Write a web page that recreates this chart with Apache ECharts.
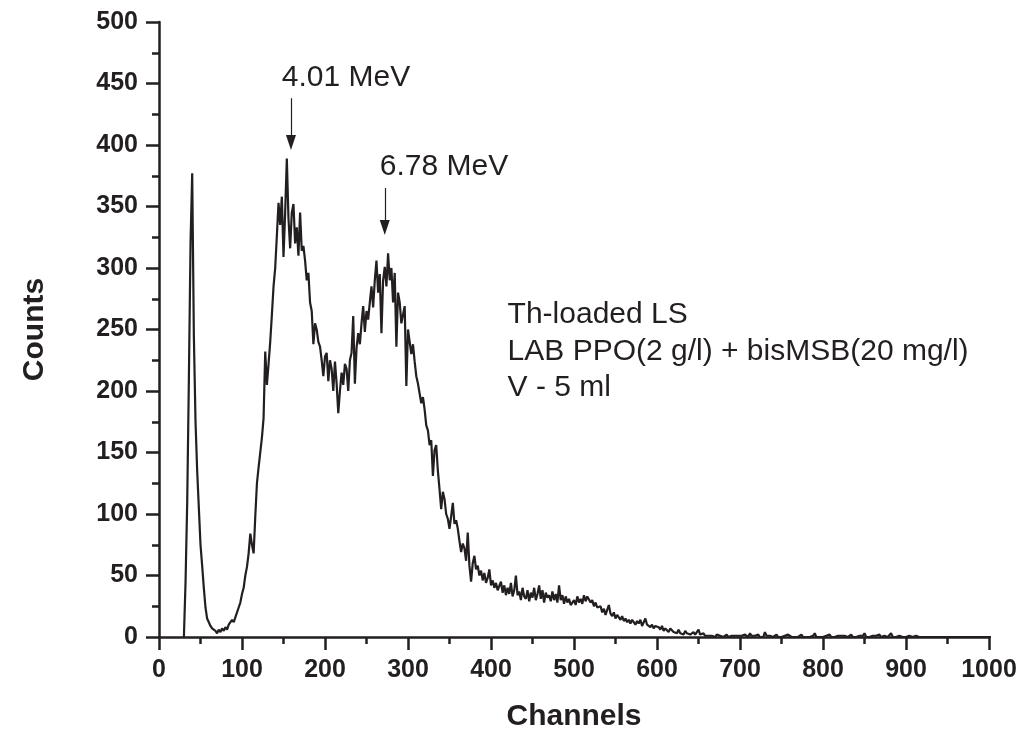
<!DOCTYPE html>
<html>
<head>
<meta charset="utf-8">
<script src="https://cdn.jsdelivr.net/npm/echarts@6/dist/echarts.min.js"></script>
<style>html,body{margin:0;padding:0;background:#fff}#c{width:1032px;height:737px}</style>
</head>
<body>
<div id="c"></div>
<script>
// Spectrum sampled every 2 channels, starting at channel 30
const START_CHANNEL = 30;
const CHANNEL_STEP = 2;
const counts = [
0,45,110,210,320,377,245,175,135,105,75,58,40,24,15,12,9,7,8,5,
3,6,4,7,5,8,6,10,9,14,12,16,20,24,28,35,40,50,57,68,
84,75,68,98,125,138,150,162,178,232,205,222,240,262,285,300,326,353,335,358,
309,345,389,340,316,345,352,320,333,310,345,314,318,306,290,296,272,265,238,255,
250,240,236,225,212,228,231,208,225,218,200,224,206,182,200,215,205,222,218,200,
225,231,261,206,235,247,238,255,269,248,265,258,272,285,268,290,306,280,295,247,
290,301,285,312,290,300,272,296,236,280,272,255,262,269,204,250,240,230,238,224,
212,206,198,190,195,185,172,168,156,160,131,152,156,135,120,104,118,112,100,96,
88,98,109,92,95,88,78,69,76,72,62,85,58,45,60,66,55,58,50,54,
46,52,44,48,55,42,46,40,44,38,39,45,36,42,34,40,35,44,33,38,
50,34,37,30,40,33,31,38,29,36,32,40,30,35,42,31,38,28,36,32,
34,29,37,30,35,28,42,30,34,27,33,28,31,26,25,30,26,33,28,31,
27,34,29,33,32,28,30,25,28,24,23,25,20,23,18,22,26,19,17,20,
15,18,16,14,17,13,15,12,14,11,14,12,10,13,11,14,9,12,15,10,
11,8,10,7,9,8,8,6,9,5,7,6,4,7,7,4,5,3,6,3,
4,2,5,3,4,2,3,4,2,3,6,2,1,3,1,2,1,2,1,2,
0,2,1,1,2,0,1,2,0,1,1,0,1,0,1,1,
1,0,2,1,0,3,1,0,1,1,2,0,1,0,4,1,0,1,1,0,
1,2,0,1,0,1,1,0,2,1,0,1,0,1,0,1,2,0,1,0,
1,0,0,1,3,0,1,0,1,0,0,1,0,2,0,1,0,0,1,0,
1,0,1,0,0,1,2,0,1,0,0,1,0,1,3,0,1,0,0,1,
0,1,0,2,0,0,1,0,0,1,3,0,1,0,0,1,0,0,1,0,
0,1,0,0,0,1,0,0,0,0,0,0,0,0,0,0,0,0,0,0,
0,0,0,0,0,0,0,0,0,0,0,0,0,0,0,0,0,0,0,0,
0,0,0,0,0,0,0,0,0,0,0,0,0,0,0,0
];
const annotations = [
  { text: '4.01 MeV', arrowChannel: 159, arrowFrom: 438, arrowTo: 402, textChannel: 148, textCount: 455 },
  { text: '6.78 MeV', arrowChannel: 272, arrowFrom: 365, arrowTo: 333, textChannel: 266, textCount: 382 }
];
const infoLines = ['Th-loaded LS', 'LAB PPO(2 g/l) + bisMSB(20 mg/l)', 'V - 5 ml'];
const infoAnchor = { channel: 420, counts: [262, 232, 203] };

const INK = '#231f20';
const FONT = "'Liberation Sans', Arial, Helvetica, sans-serif";

const seriesData = counts.map((v, i) => [START_CHANNEL + i * CHANNEL_STEP, v]);

const chart = echarts.init(document.getElementById('c'), null, { renderer: 'canvas' });
const option = {
  animation: false,
  backgroundColor: '#fff',
  grid: { left: 159, right: 43, top: 22, bottom: 98, containLabel: false },
  xAxis: {
    type: 'value', min: 0, max: 1000, interval: 100,
    name: 'Channels', nameLocation: 'middle', nameGap: 65,
    nameTextStyle: { fontFamily: FONT, fontWeight: 'bold', fontSize: 30, color: INK },
    axisLine: { show: true, onZero: false, lineStyle: { color: INK, width: 2.5 } },
    axisTick: { show: true, inside: false, length: 13, lineStyle: { color: INK, width: 2.5 } },
    minorTick: { show: true, splitNumber: 2, length: 7, lineStyle: { color: INK, width: 2.5 } },
    axisLabel: { margin: 21, fontFamily: FONT, fontWeight: 'bold', fontSize: 25, color: INK,
      formatter: v => String(v) },
    splitLine: { show: false }
  },
  yAxis: {
    type: 'value', min: 0, max: 500, interval: 50,
    name: 'Counts', nameLocation: 'middle', nameGap: 109, nameRotate: 90,
    nameTextStyle: { fontFamily: FONT, fontWeight: 'bold', fontSize: 30, color: INK },
    axisLine: { show: true, onZero: false, lineStyle: { color: INK, width: 2.5 } },
    axisTick: { show: true, inside: false, length: 13, lineStyle: { color: INK, width: 2.5 } },
    minorTick: { show: true, splitNumber: 2, length: 7, lineStyle: { color: INK, width: 2.5 } },
    axisLabel: { margin: 21, fontFamily: FONT, fontWeight: 'bold', fontSize: 25, color: INK,
      formatter: v => String(v) },
    splitLine: { show: false }
  },
  series: [{
    type: 'line',
    data: seriesData,
    showSymbol: false,
    symbol: 'none',
    lineStyle: { color: INK, width: 2.2 },
    clip: true,
    markLine: {
      silent: true,
      animation: false,
      symbol: ['none', 'triangle'],
      symbolSize: [10, 15],
      symbolRotate: 180,
      label: { show: false },
      lineStyle: { color: INK, width: 1.2, type: 'solid' },
      data: annotations.map(a => [
        { coord: [a.arrowChannel, a.arrowFrom] },
        { coord: [a.arrowChannel, a.arrowTo] }
      ])
    }
  }]
};
chart.setOption(option);

const graphics = [];
annotations.forEach(a => {
  const p = chart.convertToPixel({ gridIndex: 0 }, [a.textChannel, a.textCount]);
  graphics.push({
    type: 'text', x: p[0], y: p[1],
    style: { text: a.text, fill: INK, font: '30px ' + FONT, textAlign: 'left', textVerticalAlign: 'middle', verticalAlign: 'middle' }
  });
});
infoLines.forEach((t, i) => {
  const p = chart.convertToPixel({ gridIndex: 0 }, [infoAnchor.channel, infoAnchor.counts[i]]);
  graphics.push({
    type: 'text', x: p[0], y: p[1],
    style: { text: t, fill: INK, font: '30px ' + FONT, textAlign: 'left', textVerticalAlign: 'middle', verticalAlign: 'middle' }
  });
});
chart.setOption({ graphic: graphics });
</script>
</body>
</html>
